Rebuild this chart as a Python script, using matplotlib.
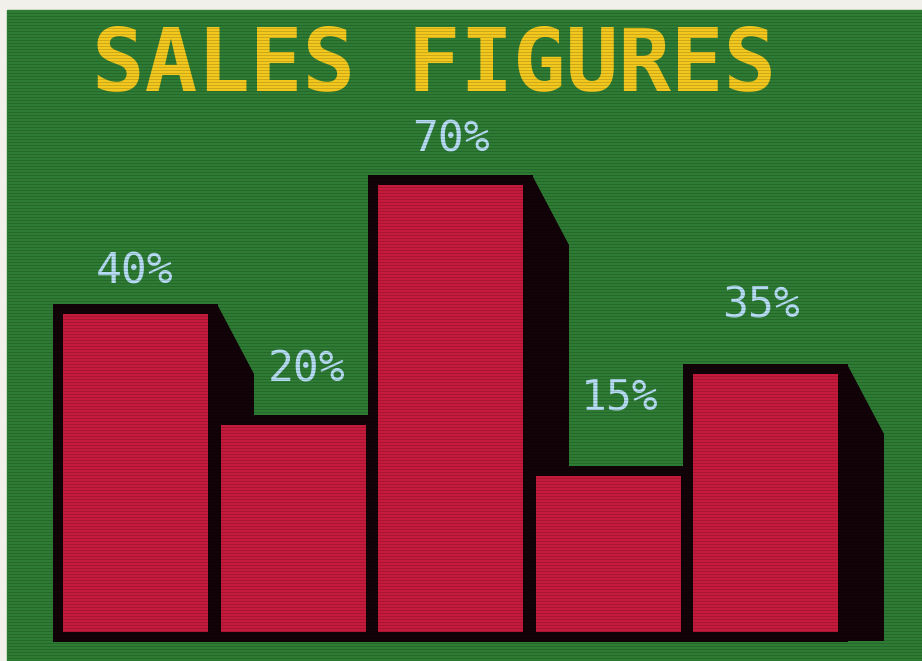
"""
Retro CRT-style bar chart: SALES FIGURES with extruded black shadows.
"""

import matplotlib

matplotlib.use("Agg")
import matplotlib.pyplot as plt
import numpy as np
from matplotlib.patches import Polygon, Rectangle

# data
title = "SALES FIGURES"
labels = ["40%", "20%", "70%", "15%", "35%"]
# drawn bar heights in screen rows (the screen does not draw them to scale)
bar_heights = [318, 207, 447, 156, 258]

# layout (screen pixels, y upward)
W, H = 922, 661
baseline = 29
pad = 10  # black outline around each bar
first_left = 63
pitch = 157.5
bar_width = 145
depth_dx, depth_dy = 36, 70
label_nudge_x = [-1, 14, 0, 12, -5]
label_lift = [33, 46, 36, 69, 58]

paper = "#f2f0eb"
green = "#2e7b33"
red = "#c51a3c"
black = "#120308"
cyan = "#b6ddf4"
yellow = "#f2c81e"

fig = plt.figure(figsize=(W / 100, H / 100), dpi=100, facecolor=paper)
ax = fig.add_axes([0, 0, 1, 1])
ax.set_xlim(0, W)
ax.set_ylim(0, H)
ax.axis("off")

ax.add_patch(Rectangle((7, 0), W - 7, H - 10, color=green, zorder=0))

heights = np.array(bar_heights, dtype=float)
lefts = first_left + pitch * np.arange(len(heights))
centers = lefts + bar_width / 2
bottom = baseline - pad

# extruded shadows behind the bars
for left, h in zip(lefts, heights):
    r = left + bar_width + pad
    t = baseline + h + pad
    pts = [(r - 1, t), (r + depth_dx, t - depth_dy),
           (r + depth_dx, bottom + 1), (r - 1, bottom + 1)]
    ax.add_patch(Polygon(pts, closed=True, color=black, lw=0, zorder=1))

# black outline, then red face
ax.bar(centers, heights + 2 * pad, width=bar_width + 2 * pad, bottom=bottom,
       color=black, zorder=2)
ax.bar(centers, heights, width=bar_width, bottom=baseline, color=red, zorder=3)

for cx, h, lab, nx, lift in zip(centers, heights, labels, label_nudge_x, label_lift):
    ax.text(cx + nx, baseline + h + pad + lift, lab, ha="center", va="center",
            fontsize=31, family="DejaVu Sans Mono", color=cyan, zorder=4)

ax.text(434, 570, title, ha="center", va="baseline", fontsize=63,
        family="DejaVu Sans Mono", fontweight="bold", color=yellow, zorder=4)

# CRT scanlines
ys = np.arange(0, H - 10, 3)
ax.hlines(ys, 7, W, colors="black", linewidth=0.6, alpha=0.18, zorder=5)

fig.savefig("out.png", dpi=100, facecolor=paper)
